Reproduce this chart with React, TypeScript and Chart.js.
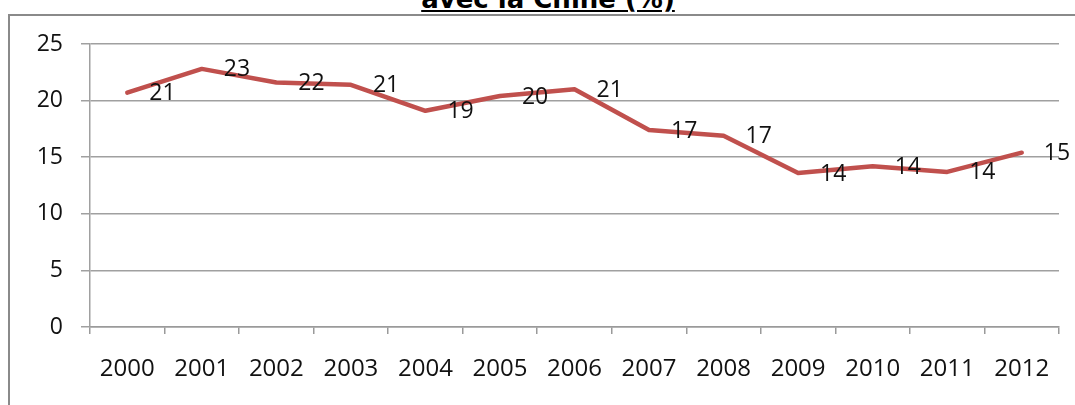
import React, { useEffect, useRef } from "react";
import { Chart, registerables } from "chart.js";

Chart.register(...registerables);

const years = ["2000", "2001", "2002", "2003", "2004", "2005", "2006", "2007", "2008", "2009", "2010", "2011", "2012"];
const shares = [20.7, 22.8, 21.6, 21.4, 19.1, 20.4, 21.0, 17.4, 16.9, 13.6, 14.2, 13.7, 15.4];
const yTicks = [0, 5, 10, 15, 20, 25];
const titleText = "avec la Chine (%)";

const FONT = "'Open Sans', sans-serif";
const TEXT = "#111111";

const labelPlugin = {
  id: "pointLabels",
  afterDatasetsDraw(chart: any) {
    const ctx = chart.ctx;
    const meta = chart.getDatasetMeta(0);
    const data = chart.data.datasets[0].data as number[];
    ctx.save();
    ctx.font = `23px ${FONT}`;
    ctx.fillStyle = TEXT;
    ctx.textAlign = "left";
    ctx.textBaseline = "middle";
    meta.data.forEach((pt: any, i: number) => {
      ctx.fillText(String(Math.round(data[i])), pt.x + 22, pt.y + 1);
    });
    ctx.restore();
  },
};

export default function App() {
  const ref = useRef<HTMLCanvasElement | null>(null);

  useEffect(() => {
    if (!ref.current) return;
    const chart = new Chart(ref.current, {
      type: "line",
      data: {
        labels: years,
        datasets: [
          {
            data: shares,
            borderColor: "#C0504D",
            borderWidth: 4.5,
            pointRadius: 0,
            tension: 0,
            borderJoinStyle: "round",
            borderCapStyle: "round",
          },
        ],
      },
      options: {
        animation: false,
        responsive: true,
        maintainAspectRatio: false,
        layout: { padding: { left: 0, right: 16, top: 44, bottom: 0 } },
        plugins: { legend: { display: false }, tooltip: { enabled: false }, title: { display: false } },
        scales: {
          x: {
            type: "category",
            offset: true,
            afterFit: (s: any) => {
              s.height = 78;
            },
            grid: {
              offset: true,
              drawOnChartArea: false,
              drawTicks: true,
              tickLength: 7,
              color: "#9a9a9a",
              lineWidth: 1.5,
            },
            border: { display: true, color: "#9a9a9a", width: 1.5 },
            ticks: {
              color: TEXT,
              font: { family: FONT, size: 24 },
              padding: 21,
              maxRotation: 0,
              autoSkip: false,
            },
          },
          y: {
            min: 0,
            max: 25,
            afterFit: (s: any) => {
              s.width = 90;
            },
            afterBuildTicks: (s: any) => {
              s.ticks = yTicks.map((v) => ({ value: v }));
            },
            grid: {
              color: "#a0a0a0",
              lineWidth: 1.5,
              drawTicks: true,
              tickLength: 9,
            },
            border: { display: true, color: "#a0a0a0", width: 1.5 },
            ticks: {
              color: TEXT,
              font: { family: FONT, size: 23 },
              padding: 18,
            },
          },
        },
      },
      plugins: [labelPlugin],
    });
    return () => chart.destroy();
  }, []);

  return (
    <div style={{ position: "relative", width: 1075, height: 405, overflow: "hidden", background: "#fff" }}>
      <style>{`body{margin:0;}`}</style>
      <div
        style={{
          position: "absolute",
          left: 8,
          top: 14,
          width: 1200,
          height: 600,
          border: "2px solid #8a8a8a",
          boxSizing: "border-box",
        }}
      />
      <div
        style={{
          position: "absolute",
          left: 0,
          top: -16,
          width: 1096,
          textAlign: "center",
          fontFamily: "'DejaVu Sans', sans-serif",
          fontWeight: "bold",
          fontSize: 26,
          lineHeight: "30px",
          textDecoration: "underline",
          color: "#000",
        }}
      >
        {titleText}
      </div>
      <div style={{ position: "absolute", left: 0, top: 0, width: 1075, height: 405 }}>
        <canvas ref={ref} />
      </div>
    </div>
  );
}
